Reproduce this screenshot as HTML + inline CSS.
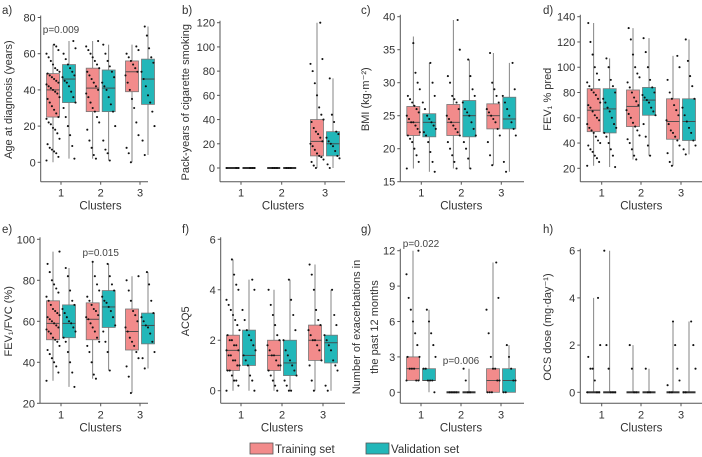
<!DOCTYPE html>
<html><head><meta charset="utf-8"><style>
html,body{margin:0;padding:0;background:#fff;}
svg{display:block;font-family:"Liberation Sans",sans-serif;}
</style></head><body>
<svg id="chart" width="702" height="457" viewBox="0 0 702 457">
<g id="root"></g>
<g>
  <rect x="250" y="443" width="23" height="11" fill="#F28B8B" stroke="#555" stroke-width="0.8"/>
  <text x="275" y="453" font-size="11.5" fill="#333">Training set</text>
  <rect x="366" y="443" width="23" height="11" fill="#22B7B9" stroke="#555" stroke-width="0.8"/>
  <text x="391" y="453" font-size="11.5" fill="#333">Validation set</text>
</g>
</svg>
<script>
// box order per panel: c1-train, c1-valid, c2-train, c2-valid, c3-train, c3-valid ; stats [min,q1,median,q3,max]
const aStats=[[0,25,40,49,65],[2,33,46,54,67],[2,28,41,52,67],[1,28,41,51,65],[0,39,50,56,65],[4,32,46,57,75]];
const aPts=[[1,3,5,6,7,8,10,13,16,18,19,21,22,24,25,27,29,31,33,35,36,38,39,40,41,42,43,44,45,46,47,48,49,50,51,52,54,56,58,60,62,64,65],[2,9,15,20,25,30,33,36,39,42,44,45,47,48,50,52,54,57,60,63,67],[2,4,8,12,18,22,25,28,30,33,36,38,40,42,44,46,48,50,52,54,56,58,60,62,64,67],[1,5,7,12,20,28,32,36,40,42,44,47,50,53,56,60,65],[0,5,8,15,22,30,35,40,44,48,50,52,54,56,58,60,62,64],[4,12,20,28,33,37,42,46,50,55,58,63,70,75]];
const bStats=[[0,0,0,0,0],[0,0,0,0,0],[0,0,0,0,0],[0,0,0,0,0],[0,10,22,40,120],[0,10,20,30,74]];
const bPts=[[0,0,0],[0,0,0],[0,0,0],[0,0,0],[0,2,5,7,9,10,12,15,18,20,22,25,28,30,33,38,40,44,50,60,70,80,86,90,120],[0,3,8,10,14,18,20,22,25,28,30,38,44,74]];
const cStats=[[17,22,24,26.4,37],[16.5,21.8,24,25.3,33],[17,22,24,26.7,39.5],[17,21.8,25,27.3,33.5],[17.5,23,25,26.8,34.5],[16.5,23,24.5,27.8,33]];
const cPts=[[17,18,19,20,21,21.5,22,22.5,23,23.5,24,24,24.5,25,25.5,26,26.5,27,27.5,28,29,30,31.5,36],[16.5,18,19.5,21,22,22.5,23,23.5,24,24.5,25,26,27,28,30,33],[17,18,19,20,21,22,22.5,23,23.5,24,24.5,25,26,27,27.5,28,30,31,35,39.5],[17,18.5,20,21,22,23,24,25,25.5,26,27,28,29,31,33.5],[17.5,19,21,22,23,24,24.5,25,25.5,26,27,28,29,30,34.5],[16.5,18,22,23,24,25,26,27,28,29,33]];
const dStats=[[22,49,66,83,135],[21,48,67,83,107],[27,53,69,82,131],[30,62,74,84,123],[22,43,57,75,109],[31,42,57,75,122]];
const dPts=[[22,25,28,30,33,35,38,40,42,45,48,50,52,55,58,60,62,65,68,70,72,75,78,80,82,85,88,90,95,100,110,120,135],[21,30,35,40,45,48,52,55,60,65,68,72,75,80,85,90,100,107],[27,30,35,40,43,46,50,53,56,60,63,66,70,73,76,80,84,88,92,95,100,110,122,131],[30,38,45,55,62,65,68,72,74,76,78,80,84,90,100,112,123],[22,25,32,38,42,45,48,50,55,58,62,66,70,75,80,90,100,109],[31,35,38,42,48,52,57,62,68,75,85,93,105,122]];
const eStats=[[31,51,59,70,94],[28,52,59,68,86],[32,51,61,69,89],[36,57,67,75,88],[25,46,55,66,82],[37,49,58,64,84]];
const ePts=[[31,35,38,40,42,44,46,48,50,51,52,54,55,56,57,58,59,60,61,62,63,64,65,66,68,70,72,74,76,78,80,84,88,94],[28,35,40,45,50,52,55,57,59,60,62,64,66,68,70,75,82,86],[32,34,40,45,48,50,52,55,57,59,61,62,63,65,66,68,70,72,75,78,82,89],[36,45,50,55,58,62,65,67,69,70,72,75,78,82,88],[25,33,38,42,45,48,50,52,55,57,60,63,65,70,75,80,82],[37,42,45,50,54,57,58,60,62,64,70,78,84]];
const fStats=[[0,0.8,1.6,2.2,5.2],[0,1,1.4,2.4,4.4],[0,0.8,1.4,2,4],[0,0.6,1.1,2,4.4],[0,1.2,2,2.6,5],[0,1.1,1.9,2.2,4]];
const fPts=[[0,0.2,0.4,0.4,0.6,0.8,0.8,1,1,1.2,1.2,1.4,1.4,1.6,1.6,1.8,1.8,2,2,2.2,2.4,2.6,2.8,3,3.2,3.4,3.6,4,4.2,4.6,5.2],[0,0.4,0.6,1,1.2,1.4,1.6,1.8,2,2.2,2.4,2.8,3.2,4,4.4],[0,0.2,0.4,0.6,0.8,1,1,1.2,1.4,1.4,1.6,1.8,2,2.2,2.6,3,3.4,4],[0,0,0.2,0.4,0.6,0.8,1,1.2,1.4,1.6,2,2.4,3,3.6,4.4],[0,0.4,1,1.2,1.6,1.8,2,2,2.2,2.4,2.6,2.8,3.2,4,4.6,5],[0,0.2,0.8,1,1.2,1.6,1.8,2,2.2,2.6,3,4]];
const gStats=[[1,1,2,3,12],[0,1,1,2,7],[0,0,0,0,0],[0,0,0,0,2],[0,0,1,2,11],[0,0,1,2,4]];
const gPts=[[1,1,1,2,2,2,3,3,4,5,6,7,8,10,12],[0,1,1,1,2,2,3,4,5,6,7],[0,0,0,0],[0,0,1,2],[0,0,0,1,1,2,2,3,5,7,8,11],[0,0,1,1,2,3,4]];
const hStats=[[0,0,0,0,4],[0,0,0,0,6],[0,0,0,0,2],[0,0,0,0,1],[0,0,0,0,3],[0,0,0,0,3]];
const hPts=[[0,0,0,0.5,1,1,1.5,2,4],[0,0,0,1,2,6],[0,0,1,2],[0,0,1],[0,0,0.3,0.5,1,2,3],[0,0,1,2,3]];
const aTicks=[0,20,40,60,80], bTicks=[0,20,40,60,80,100,120], cTicks=[15,20,25,30,35,40], dTicks=[20,40,60,80,100,120,140];
const eTicks=[20,40,60,80,100], fTicks=[0,2,4,6], gTicks=[0,3,6,9,12], hTicks=[0,2,4,6];
const clusterLabels=["1","2","3"];

const NS="http://www.w3.org/2000/svg";
const root=document.getElementById('root');
function mk(tag,attrs,parent){const e=document.createElementNS(NS,tag);for(const k in attrs)e.setAttribute(k,attrs[k]);(parent||root).appendChild(e);return e;}

const panels=[
 {tag:"a",name:"age",stats:aStats,pts:aPts,ticks:aTicks,ax:40.7,xEnd:148,top:17.5,bot:162.3,base:181.7,vmin:0,vmax:80,c:[61,100.7,140],lab:"Age at diagnosis (years)",labX:12,px:2,py:14,pv:["p=0.009",61,33]},
 {tag:"b",name:"pack-years",stats:bStats,pts:bPts,ticks:bTicks,ax:220,xEnd:345,top:22.7,bot:168,base:181.7,vmin:0,vmax:120,c:[241,281.7,325],lab:"Pack-years of cigarette smoking",labX:189,px:182,py:14},
 {tag:"c",name:"bmi",stats:cStats,pts:cPts,ticks:cTicks,ax:400.3,xEnd:524,top:16.7,bot:181.7,base:181.7,vmin:15,vmax:40,c:[421.3,461.3,501.3],lab:"BMI (kg·m⁻²)",labX:369,px:361,py:14},
 {tag:"d",name:"fev1-pred",stats:dStats,pts:dPts,ticks:dTicks,ax:580.3,xEnd:702,top:16.7,bot:168.3,base:181.7,vmin:20,vmax:140,c:[601.7,641,681],lab:"FEV₁ % pred",labX:551,px:543,py:14},
 {tag:"e",name:"fev1-fvc",stats:eStats,pts:ePts,ticks:eTicks,ax:40,xEnd:148,top:239.3,bot:403.3,base:403.3,vmin:20,vmax:100,c:[61,100.7,140],lab:"FEV₁/FVC (%)",labX:12,px:2,py:233,pv:["p=0.015",100.7,256]},
 {tag:"f",name:"acq5",stats:fStats,pts:fPts,ticks:fTicks,ax:220.7,xEnd:345,top:239.3,bot:390.7,base:403.3,vmin:0,vmax:6,c:[241,282,323],lab:"ACQ5",labX:189,px:182,py:233},
 {tag:"g",name:"exacerbations",stats:gStats,pts:gPts,ticks:gTicks,ax:400.3,xEnd:524,top:250.7,bot:392.3,base:403.3,vmin:0,vmax:12,c:[421,461,501],lab:"Number of exacerbations in",lab2:"the past 12 months",labX:360,labX2:378,px:361,py:233,pv:["p=0.022",421,247],pv2:["p=0.006",461,364]},
 {tag:"h",name:"ocs-dose",stats:hStats,pts:hPts,ticks:hTicks,ax:580.3,xEnd:702,top:250.7,bot:392.3,base:403.3,vmin:0,vmax:6,c:[601.7,641,681],lab:"OCS dose (mg·day⁻¹)",labX:551,px:543,py:233}
];
const fills=["#F28B8B","#22B7B9"];

panels.forEach(P=>{
  const g=mk('g',{});
  
  
  const y=v=>P.bot-(v-P.vmin)/(P.vmax-P.vmin)*(P.bot-P.top);
  const t=mk('text',{x:P.px,y:P.py,'font-size':11.5,fill:'#333'},g);t.textContent=P.tag+')';
  
  
  const ya=mk('line',{x1:P.ax,x2:P.ax,y1:P.top-2,y2:P.base,stroke:'#555','stroke-width':1},g);
  
  
  const xa=mk('line',{x1:P.ax,x2:P.xEnd,y1:P.base,y2:P.base,stroke:'#555','stroke-width':1},g);
  
  
  P.ticks.forEach(v=>{
    mk('line',{x1:P.ax-3,x2:P.ax,y1:y(v),y2:y(v),stroke:'#555','stroke-width':1},g);
    const tl=mk('text',{x:P.ax-5,y:y(v)+4,'font-size':11,fill:'#333','text-anchor':'end'},g);
    tl.textContent=v;
    
    
  });
  P.c.forEach((cx,i)=>{
    mk('line',{x1:cx,x2:cx,y1:P.base,y2:P.base+3,stroke:'#555','stroke-width':1},g);
    const tl=mk('text',{x:cx,y:P.base+15,'font-size':11,fill:'#333','text-anchor':'middle'},g);
    tl.textContent=clusterLabels[i];
    
    
  });
  const xt=mk('text',{x:(P.c[0]+P.c[2])/2,y:P.base+28,'font-size':11.5,fill:'#333','text-anchor':'middle'},g);
  xt.textContent='Clusters';
  
  
  const cy=(P.top+P.base)/2;
  const yt=mk('text',{x:P.labX,y:cy,'font-size':11,fill:'#333','text-anchor':'middle',transform:`rotate(-90 ${P.labX} ${cy})`},g);
  yt.textContent=P.lab;
  
  
  if(P.lab2){
    const yt2=mk('text',{x:P.labX2,y:cy,'font-size':11,fill:'#333','text-anchor':'middle',transform:`rotate(-90 ${P.labX2} ${cy})`},g);
    yt2.textContent=P.lab2;
    
    
  }
  P.stats.forEach((s,k)=>{
    const cl=Math.floor(k/2), set=k%2;
    const bx=P.c[cl]+(set===0?-8:8);
    const w=13;
    const bg=mk('g',{},g);
    
    
    mk('line',{x1:bx,x2:bx,y1:y(s[0]),y2:y(s[4]),stroke:'#666','stroke-width':0.8},bg);
    const h=y(s[1])-y(s[3]);
    if(h>0.5){
      mk('rect',{x:bx-w/2,y:y(s[3]),width:w,height:h,fill:fills[set],stroke:'#777','stroke-width':0.8},bg);
      mk('line',{x1:bx-w/2,x2:bx+w/2,y1:y(s[2]),y2:y(s[2]),stroke:'#444','stroke-width':0.9},bg);
    } else {
      mk('line',{x1:bx-w/2,x2:bx+w/2,y1:y(s[2]),y2:y(s[2]),stroke:'#333','stroke-width':2},bg);
    }
    P.pts[k].forEach((v,i)=>{
      const jx=(((i*37+k*11)%13)-6)/6*6.5;
      const d=mk('circle',{cx:bx+jx,cy:y(v),r:1.05,fill:'#111'},bg);
      
      
    });
  });
  [P.pv,P.pv2].forEach(pv=>{ if(!pv)return;
    const pt=mk('text',{x:pv[1],y:pv[2],'font-size':10,fill:'#444','text-anchor':'middle'},g);
    pt.textContent=pv[0];
    
    
  });
});
</script>
</body></html>
